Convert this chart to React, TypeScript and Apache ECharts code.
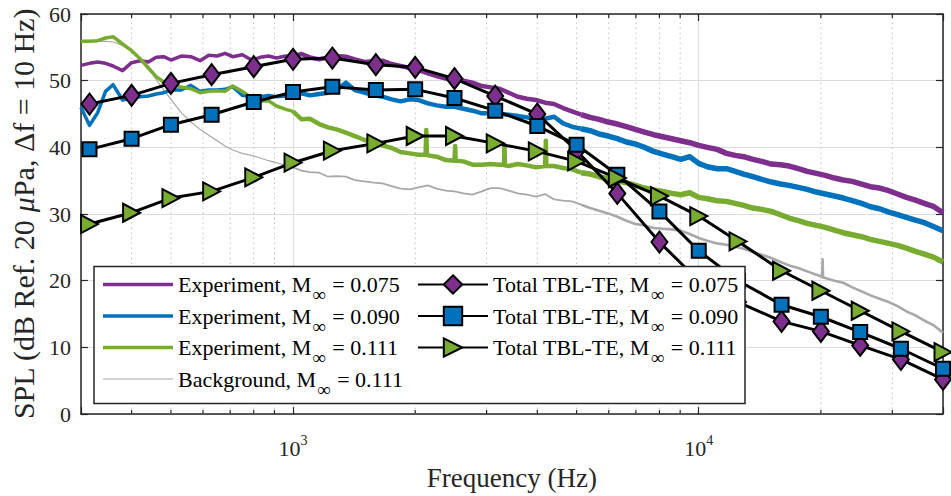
import React, { useEffect, useRef } from 'react';
import * as echarts from 'echarts';

// Narrow-band spectra, sampled along frequency (Hz)
const expFreqs = [
  300, 315, 330, 345, 360, 380, 400, 420, 440, 460,
  480, 500, 530, 560, 590, 620, 650, 680, 710, 750,
  790, 830, 870, 910, 960, 1000, 1050, 1100, 1160, 1220,
  1280, 1350, 1420, 1500, 1580, 1660, 1750, 1840, 1940, 2040,
  2150, 2260, 2380, 2500, 2630, 2770, 2920, 3070, 3230, 3400,
  3580, 3770, 3970, 4180, 4400, 4630, 4870, 5130, 5400, 5680,
  5980, 6300, 6630, 6980, 7350, 7740, 8150, 8580, 9030, 9500,
  10000, 10500, 11100, 11700, 12300, 12900, 13600, 14300, 15100, 15900,
  16700, 17600, 18500, 19500, 20500, 21600, 22700, 23900, 25200, 26500,
  27900, 29400, 30900, 32500, 34200, 36000, 38000, 40000,
];

const expM075 = [
  52.3, 52.6, 52.8, 52.6, 52.2, 51.5, 52.7, 53.0, 52.8, 53.5,
  53.6, 53.1, 53.7, 53.6, 53.0, 53.8, 53.7, 54.1, 53.6, 53.9,
  53.1, 53.5, 53.7, 53.4, 53.7, 53.6, 54.0, 53.5, 53.2, 53.5,
  53.7, 53.6, 53.2, 52.8, 52.9, 53.0, 52.5, 52.2, 51.9, 51.6,
  51.1, 50.7, 50.3, 50.5, 50.0, 49.7, 49.2, 49.0, 48.8, 48.2,
  47.6, 47.3, 47.1, 46.7, 46.5, 45.9, 45.4, 44.9, 44.5, 44.2,
  43.8, 43.5, 43.1, 42.7, 42.3, 41.9, 41.6, 41.3, 41.0, 40.7,
  40.3, 40.0, 39.7, 39.1, 38.8, 38.6, 38.2, 37.9, 37.5, 37.4,
  37.2, 36.8, 36.4, 36.1, 35.8, 35.4, 35.1, 34.9, 34.5, 34.1,
  33.9, 33.5, 33.0, 32.5, 32.1, 31.6, 31.1, 30.2,
];

const expM090 = [
  46.0, 43.3, 45.2, 48.4, 49.4, 47.1, 47.4, 47.6, 47.7, 48.0,
  48.2, 48.6, 48.6, 49.3, 48.4, 48.6, 48.6, 48.7, 49.1, 47.8,
  47.6, 47.6, 47.8, 47.6, 47.7, 47.9, 48.1, 47.8, 48.0, 48.2,
  48.6, 49.7, 48.6, 48.2, 47.9, 47.6, 47.2, 46.9, 47.2, 47.1,
  46.6, 46.3, 46.1, 46.1, 45.8, 45.5, 45.1, 45.1, 45.0, 44.9,
  44.7, 44.5, 44.2, 44.3, 44.6, 43.6, 43.1, 42.8, 42.5, 42.0,
  41.7, 41.3, 40.8, 40.5, 40.0, 39.4, 39.0, 38.6, 38.2, 38.6,
  37.6, 37.1, 36.8, 36.8, 36.4, 36.0, 35.6, 35.2, 34.8, 34.5,
  34.3, 34.0, 33.7, 33.3, 33.0, 32.7, 32.4, 32.0, 31.6, 31.1,
  30.8, 30.3, 29.9, 29.5, 29.1, 28.7, 28.1, 27.5,
];

const expM111 = [
  55.9, 55.9, 56.0, 56.4, 56.6, 55.5, 54.5, 53.3, 51.9, 50.6,
  49.8, 49.7, 49.0, 48.8, 48.2, 48.4, 48.5, 48.4, 49.2, 48.4,
  47.5, 46.9, 47.0, 46.2, 45.7, 45.4, 44.2, 44.3, 43.5, 43.0,
  42.7, 42.2, 41.7, 41.1, 40.8, 40.3, 39.9, 39.3, 39.1, 38.9,
  38.8, 38.6, 38.1, 38.0, 37.9, 37.4, 37.4, 37.5, 37.4, 37.2,
  37.5, 37.3, 37.0, 37.2, 37.2, 36.9, 36.7, 36.2, 36.0, 35.6,
  35.3, 35.0, 34.7, 34.3, 33.9, 33.6, 33.4, 33.1, 32.9, 33.2,
  32.5, 32.3, 32.0, 31.9, 31.6, 31.3, 30.9, 30.7, 30.4, 29.9,
  29.4, 29.0, 28.6, 28.3, 28.0, 27.6, 27.2, 26.9, 26.6, 26.2,
  25.9, 25.6, 25.3, 24.9, 24.4, 24.0, 23.5, 22.8,
];

const bgM111 = [
  55.9, 55.9, 55.9, 55.9, 55.8, 55.3, 54.5, 53.0, 51.8, 50.2,
  48.6, 47.2, 45.2, 43.8, 42.7, 41.8, 41.0, 40.2, 39.6, 39.1,
  38.8, 38.4, 38.0, 37.7, 37.3, 37.0, 36.5, 36.3, 36.2, 35.6,
  35.7, 35.6, 35.1, 34.9, 34.7, 34.6, 34.2, 33.8, 33.7, 34.0,
  34.3, 33.8, 33.5, 33.4, 33.1, 32.9, 33.4, 33.9, 33.9, 33.5,
  33.1, 32.9, 32.6, 33.0, 32.2, 32.0, 31.9, 31.4, 30.9, 30.5,
  30.1, 29.6, 29.0, 28.5, 28.3, 27.9, 27.8, 27.7, 27.5, 27.0,
  26.4, 26.0, 25.6, 25.4, 25.1, 24.8, 24.3, 23.9, 23.4, 22.8,
  22.3, 21.9, 21.4, 20.9, 20.4, 20.0, 19.7, 19.0, 18.4, 17.8,
  17.3, 16.8, 16.2, 15.4, 14.8, 14.0, 13.3, 12.2,
];

// Narrow tonal peaks in the spectra: [frequency, SPL]
const peaksM111 = [
  [2122, 38.9], [2130, 42.6], [2138, 38.9],
  [2503, 38.0], [2510, 40.2], [2517, 38.0],
  [3312, 37.4], [3320, 40.4], [3328, 37.3],
  [4190, 37.2], [4200, 41.0], [4210, 37.2],
];
const peaksBg = [[20150, 20.6], [20200, 23.2], [20250, 20.5]];

// One-third-octave band predictions
const bandFreqs = [
  315, 400, 500, 630, 800, 1000, 1250, 1600, 2000, 2500, 3150,
  4000, 5000, 6300, 8000, 10000, 12500, 16000, 20000, 25000, 31500, 40000,
];
const tblM075 = [
  46.5, 47.8, 49.6, 50.9, 52.1, 53.2, 53.4, 52.4, 52.0, 50.3, 47.7,
  45.0, 39.5, 33.1, 25.8, 20.0, 16.8, 13.9, 12.4, 10.3, 8.2, 5.2,
];
const tblM090 = [
  39.7, 41.3, 43.4, 44.9, 46.8, 48.3, 49.1, 48.6, 48.7, 47.4, 45.5,
  43.2, 40.4, 35.9, 30.4, 24.5, 20.0, 16.4, 14.6, 12.3, 9.8, 6.8,
];
const tblM111 = [
  28.5, 30.2, 32.4, 33.4, 35.5, 37.7, 39.5, 40.6, 41.7, 41.7, 40.6,
  39.4, 37.9, 35.4, 32.7, 29.7, 25.9, 21.5, 18.5, 15.5, 12.4, 9.3,
];

// Minor logarithmic grid positions (Hz)
const minorFreqs = [
  400, 500, 600, 700, 800, 900,
  2000, 3000, 4000, 5000, 6000, 7000, 8000, 9000,
  20000, 30000,
];

const SERIF = '"Liberation Serif", "Times New Roman", "DejaVu Serif", serif';
const INK = '#262626';
const PURPLE = '#7E2F8E';
const BLUE = '#0072BD';
const GREEN = '#77AC30';
const GREY = '#A8A8A8';

type Pt = [number, number];

function pairs(freqs: number[], vals: number[], extra: number[][] = []): Pt[] {
  const pts: Pt[] = freqs.map((f, i) => [f, vals[i]] as Pt);
  extra.forEach((p) => pts.push([p[0], p[1]]));
  return pts.sort((a, b) => a[0] - b[0]);
}

// The spectra get denser with frequency, so the trace is drawn thicker higher up
function segments(pts: Pt[]): Pt[][] {
  return [
    pts.filter((p) => p[0] <= 1000),
    pts.filter((p) => p[0] >= 1000 && p[0] <= 5130),
    pts.filter((p) => p[0] >= 5130),
  ];
}

const subM = (name: string) => name.replace('M∞', 'M{sub|∞}');

export default function App() {
  const ref = useRef<HTMLDivElement>(null);

  useEffect(() => {
    document.body.style.margin = '0';
    if (!ref.current) return;
    const chart = echarts.init(ref.current, undefined, { renderer: 'svg' });

    const spectra = [
      { name: 'Background, M∞ = 0.111', color: GREY, pts: pairs(expFreqs, bgM111, peaksBg), widths: [1.2, 1.8, 2.6] },
      { name: 'Experiment, M∞ = 0.075', color: PURPLE, pts: pairs(expFreqs, expM075), widths: [3.5, 4.5, 5.5] },
      { name: 'Experiment, M∞ = 0.090', color: BLUE, pts: pairs(expFreqs, expM090), widths: [3.5, 4.5, 5.5] },
      { name: 'Experiment, M∞ = 0.111', color: GREEN, pts: pairs(expFreqs, expM111, peaksM111), widths: [3.5, 4.5, 5.5] },
    ];

    const spectrumSeries: any[] = [];
    spectra.forEach((s) => {
      segments(s.pts).forEach((seg, k) => {
        spectrumSeries.push({
          type: 'line',
          name: s.name,
          data: seg,
          symbol: 'none',
          showSymbol: false,
          silent: true,
          z: 2,
          itemStyle: { color: s.color },
          lineStyle: { color: s.color, width: s.widths[k], join: 'round' },
        });
      });
    });

    const predictions = [
      { name: 'Total TBL-TE, M∞ = 0.075', vals: tblM075, color: PURPLE, symbol: 'diamond', size: [16, 21], rotate: 0 },
      { name: 'Total TBL-TE, M∞ = 0.090', vals: tblM090, color: BLUE, symbol: 'rect', size: 14, rotate: 0 },
      { name: 'Total TBL-TE, M∞ = 0.111', vals: tblM111, color: GREEN, symbol: 'triangle', size: [18, 17], rotate: -90 },
    ];
    const predictionSeries = predictions.map((p) => ({
      type: 'line',
      name: p.name,
      data: pairs(bandFreqs, p.vals),
      symbol: p.symbol,
      symbolSize: p.size,
      symbolRotate: p.rotate,
      showSymbol: true,
      silent: true,
      z: 2,
      clip: false,
      itemStyle: { color: p.color, borderColor: '#000', borderWidth: 2 },
      lineStyle: { color: '#000', width: 3 },
    }));

    const minorGrid = {
      type: 'custom',
      silent: true,
      z: 1,
      data: minorFreqs.map((f) => [f, 0]),
      encode: { x: 0, y: 1 },
      renderItem: (_params: any, api: any) => {
        const f = api.value(0);
        const b = api.coord([f, 0]);
        const t = api.coord([f, 60]);
        return {
          type: 'group',
          children: [
            {
              type: 'line',
              shape: { x1: b[0], y1: b[1], x2: t[0], y2: t[1] },
              style: { stroke: '#bfbfbf', lineWidth: 1, lineDash: [1.5, 3.5] },
            },
            {
              type: 'line',
              shape: { x1: b[0], y1: b[1], x2: b[0], y2: b[1] - 4 },
              style: { stroke: INK, lineWidth: 1.2 },
            },
            {
              type: 'line',
              shape: { x1: t[0], y1: t[1], x2: t[0], y2: t[1] + 4 },
              style: { stroke: INK, lineWidth: 1.2 },
            },
          ],
        };
      },
    };

    const powerLabel = (v: number) => {
      const e = Math.log10(v);
      const r = Math.round(e);
      return Math.abs(e - r) < 1e-6 ? `{b|10}{s|${r}}` : '';
    };

    const axisLine = { show: true, onZero: false, lineStyle: { color: INK, width: 1.5 } };
    const axisTick = { show: true, inside: true, length: 7, lineStyle: { color: INK, width: 1.2 } };

    const legendText = {
      fontFamily: SERIF,
      fontSize: 22,
      lineHeight: 31,
      color: '#000',
      rich: {
        sub: { fontFamily: SERIF, fontSize: 19, lineHeight: 13, color: '#000', padding: [20, 1, 0, 1] },
      },
    };

    const option: any = {
      animation: false,
      backgroundColor: '#fff',
      grid: { left: 76, right: 8, top: 14, bottom: 75, containLabel: false },
      xAxis: [
        {
          type: 'log',
          logBase: 10,
          min: 300,
          max: 40000,
          position: 'bottom',
          axisLine,
          axisTick,
          minorTick: { show: false },
          axisLabel: {
            margin: 19,
            color: INK,
            formatter: powerLabel,
            rich: {
              b: { fontFamily: SERIF, fontSize: 22, lineHeight: 30, color: INK },
              s: { fontFamily: SERIF, fontSize: 14, lineHeight: 12, verticalAlign: 'top', color: INK },
            },
          },
          splitLine: { show: true, lineStyle: { color: '#dcdcdc', width: 1 } },
          name: 'Frequency (Hz)',
          nameLocation: 'middle',
          nameGap: 43,
          nameTextStyle: { fontFamily: SERIF, fontSize: 27, color: INK },
        },
        {
          type: 'log',
          logBase: 10,
          min: 300,
          max: 40000,
          position: 'top',
          axisLine,
          axisTick,
          axisLabel: { show: false },
          splitLine: { show: false },
        },
      ],
      yAxis: [
        {
          type: 'value',
          min: 0,
          max: 60,
          interval: 10,
          position: 'left',
          axisLine,
          axisTick,
          axisLabel: { margin: 10, color: INK, fontFamily: SERIF, fontSize: 22 },
          splitLine: { show: true, lineStyle: { color: '#dcdcdc', width: 1 } },
          name: 'SPL (dB Ref. 20 {i|μ}Pa, Δf = 10 Hz)',
          nameLocation: 'middle',
          nameGap: 40,
          nameRotate: 90,
          nameTextStyle: {
            fontFamily: SERIF,
            fontSize: 30,
            color: INK,
            rich: { i: { fontFamily: SERIF, fontSize: 30, fontStyle: 'italic', color: INK } },
          },
        },
        {
          type: 'value',
          min: 0,
          max: 60,
          interval: 10,
          position: 'right',
          axisLine,
          axisTick,
          axisLabel: { show: false },
          splitLine: { show: false },
        },
      ],
      graphic: [
        {
          type: 'rect',
          z: 3,
          silent: true,
          shape: { x: 94, y: 266.5, width: 651, height: 137 },
          style: { fill: '#fff', stroke: INK, lineWidth: 1.5 },
        },
      ],
      legend: [
        {
          orient: 'vertical',
          left: 103,
          top: 265,
          padding: 0,
          itemGap: -7.5,
          itemWidth: 70,
          itemHeight: 23,
          selectedMode: false,
          formatter: subM,
          textStyle: legendText,
          data: [
            { name: 'Experiment, M∞ = 0.075', icon: 'path://M0,0L70,0L70,3.5L0,3.5Z' },
            { name: 'Experiment, M∞ = 0.090', icon: 'path://M0,0L70,0L70,3.5L0,3.5Z' },
            { name: 'Experiment, M∞ = 0.111', icon: 'path://M0,0L70,0L70,3.5L0,3.5Z' },
            { name: 'Background, M∞ = 0.111', icon: 'path://M0,0L70,0L70,1.2L0,1.2Z' },
          ],
        },
        {
          orient: 'vertical',
          left: 417,
          top: 265,
          padding: 0,
          itemGap: -7.5,
          itemWidth: 70,
          itemHeight: 23,
          selectedMode: false,
          formatter: subM,
          textStyle: legendText,
          data: predictions.map((p) => p.name),
        },
      ],
      series: [minorGrid, ...spectrumSeries, ...predictionSeries],
    };

    chart.setOption(option);
    return () => chart.dispose();
  }, []);

  return <div ref={ref} style={{ width: 951, height: 496 }} />;
}
